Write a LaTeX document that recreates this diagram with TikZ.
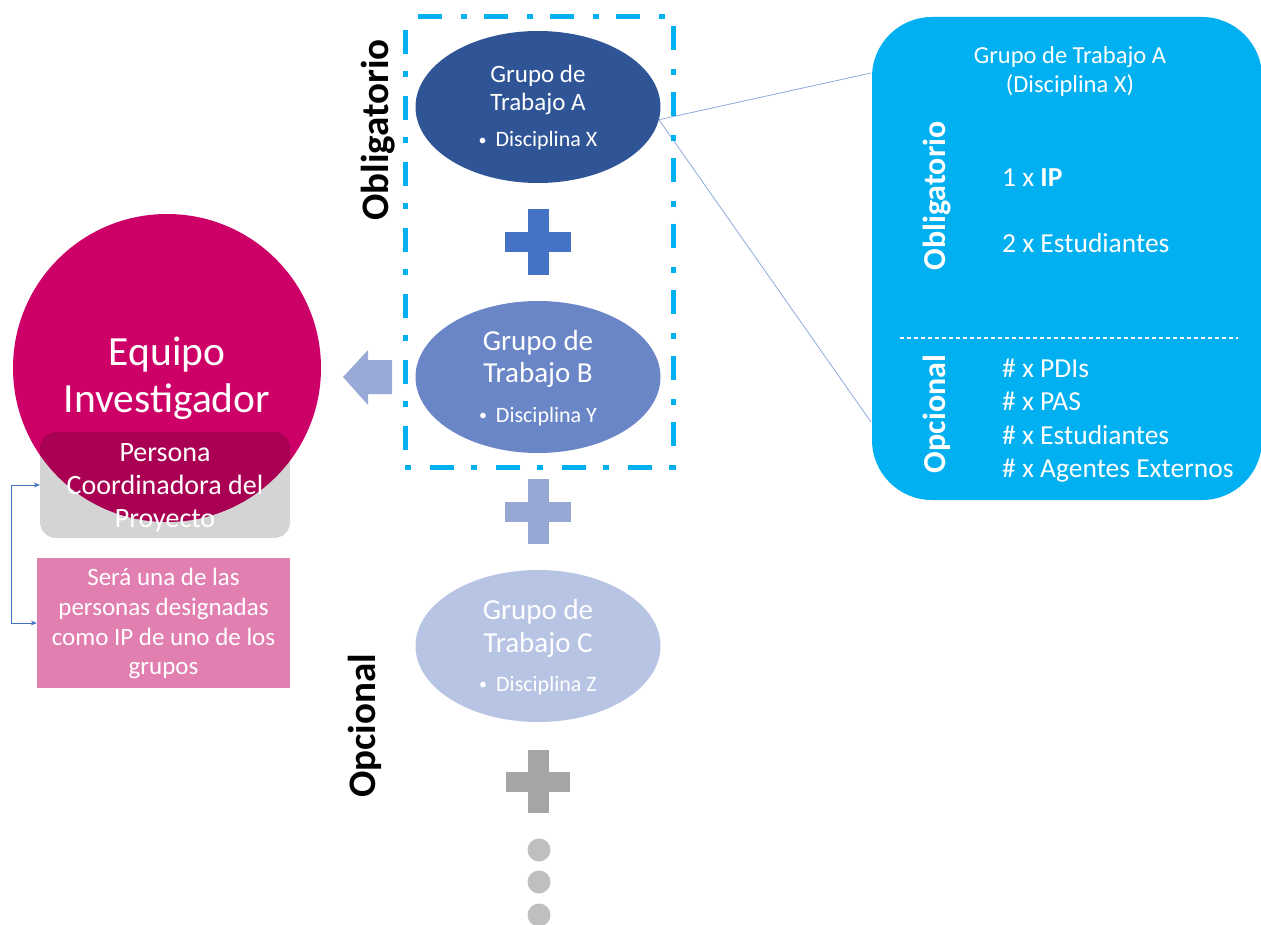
\documentclass[tikz,border=0pt]{standalone}
\usepackage{fontspec}
\setmainfont{Carlito}
\usetikzlibrary{shapes.geometric,calc,arrows.meta}
\definecolor{gAcol}{HTML}{2F5597}
\definecolor{gBcol}{HTML}{6B86C7}
\definecolor{gCcol}{HTML}{B8C4E3}
\definecolor{plusA}{HTML}{4472C4}
\definecolor{plusB}{HTML}{97A8D5}
\definecolor{plusC}{HTML}{A5A5A5}
\definecolor{dotcol}{HTML}{BFBFBF}
\definecolor{arrcol}{HTML}{9AAAD6}
\definecolor{cyanc}{HTML}{00B0F0}
\definecolor{magc}{HTML}{CC0066}
\definecolor{pinkc}{HTML}{E27FB1}
\definecolor{linec}{HTML}{8EA9DB}
\definecolor{connc}{HTML}{4472C4}
\newcommand\smallbul{\raisebox{1.5pt}{\fontsize{16}{16}\selectfont\textbullet}\hspace{9pt}}
\tikzset{
  grp/.style={ellipse, inner sep=0pt, minimum width=245pt, minimum height=152pt, draw=none},
  wt/.style={text=white, inner sep=0pt, anchor=base},
  wtl/.style={text=white, inner sep=0pt, anchor=base west},
  fA/.style={font=\fontsize{25}{27}\selectfont},
  fB/.style={font=\fontsize{29}{32}\selectfont},
  fD/.style={font=\fontsize{22}{26}\selectfont},
  fP/.style={font=\fontsize{27.5}{33}\selectfont},
  rotlab/.style={rotate=90, inner sep=0pt, font=\bfseries\fontsize{39}{44}\selectfont},
  rotlabw/.style={rotate=90, inner sep=0pt, text=white, font=\bfseries\fontsize{32}{36}\selectfont},
  thin link/.style={draw=linec, line width=0.8pt},
  conn/.style={draw=connc, line width=0.9pt, {Stealth[length=6pt,width=5pt]}-{Stealth[length=6pt,width=5pt]}}
}
\begin{document}
\begin{tikzpicture}[x=1pt,y=-1pt]
\useasboundingbox (0,0) rectangle (1261,925);

% ---------- right panel ----------
\node[fill=cyanc, rounded corners=60pt, minimum width=390pt, minimum height=483pt, inner sep=0pt] (panel) at (1067,258.5) {};
\coordinate (pA) at (871,73);
\coordinate (pB) at (871,422);
\node[wt, font=\fontsize{24.5}{28}\selectfont] (ptitle1) at (1070,64) {Grupo de Trabajo A};
\node[wt, font=\fontsize{24.5}{28}\selectfont] (ptitle2) at (1070,93) {(Disciplina X)};
\node[rotlabw] (pobl) at (937,196) {Obligatorio};
\node[rotlabw] (popc) at (937,414) {Opcional};
\node[wtl, fP] (pip) at (1002,187) {1 x \textbf{IP}};
\node[wtl, fP] (pest) at (1002,253) {2 x Estudiantes};
\draw[white, line width=1.3pt, dash pattern=on 4pt off 3pt] (900,338) -- (1238,338);
\node[wtl, fP] (o1) at (1002,377) {\# x PDIs};
\node[wtl, fP] (o2) at (1002,410) {\# x PAS};
\node[wtl, fP] (o3) at (1002,444) {\# x Estudiantes};
\node[wtl, fP] (o4) at (1002,477) {\# x Agentes Externos};

% ---------- groups ----------
\node[grp, fill=gAcol] (gA) at (538,107) {};
\node[grp, fill=gBcol] (gB) at (538,377) {};
\node[grp, fill=gCcol] (gC) at (538,646) {};

\node[wt, fA] (gA1) at (538,83) {Grupo de};
\node[wt, fA] (gA2) at (538,111) {Trabajo A};
\node[wt, fD] (gA3) at (538,147) {\smallbul Disciplina X};

\node[wt, fB] (gB1) at (538,350) {Grupo de};
\node[wt, fB] (gB2) at (538,382) {Trabajo B};
\node[wt, fD] (gB3) at (538,422) {\smallbul Disciplina Y};

\node[wt, fB] (gC1) at (538,619) {Grupo de};
\node[wt, fB] (gC2) at (538,652) {Trabajo C};
\node[wt, fD] (gC3) at (538,691) {\smallbul Disciplina Z};

% links to panel
\draw[thin link] (gA.-6) -- (pA);
\draw[thin link] (gA.-6) -- (pB);

% dashed box
\draw[cyanc, line width=5pt, dash pattern=on 24pt off 19pt on 6pt off 17pt, dash phase=53pt]
  (405,17) -- (673,17) -- (673,467) -- (405,467) -- cycle;

% plus signs
\fill[plusA] (505,232) rectangle (571,252);
\fill[plusA] (528,209) rectangle (549,275);
\fill[plusB] (505,502) rectangle (571,522);
\fill[plusB] (528,479) rectangle (549,544);
\fill[plusC] (506,772) rectangle (570,792);
\fill[plusC] (528,750) rectangle (549,813);

% dots
\fill[dotcol] (539,850) circle (11.5pt);
\fill[dotcol] (539,882) circle (11.5pt);
\fill[dotcol] (539,915) circle (11.5pt);

% block arrow
\fill[arrcol] (343,377) -- (368,350) -- (368,360) -- (392,360) -- (392,394) -- (368,394) -- (368,405) -- cycle;

% rotated labels
\node[rotlab] (lobl) at (378,130) {Obligatorio};
\node[rotlab] (lopc) at (365,726) {Opcional};

% ---------- left ----------
\node[circle, fill=magc, minimum size=308pt, inner sep=0pt] (team) at (167,368) {};
\node[rectangle, rounded corners=16pt, fill=black, fill opacity=0.17, minimum width=250pt, minimum height=106pt, inner sep=0pt] (coord) at (165,485) {};
\node[wt, font=\fontsize{41.5}{47}\selectfont] (t1) at (167,365) {Equipo};
\node[wt, font=\fontsize{41.5}{47}\selectfont] (t2) at (167,412) {Investigador};
\node[wt, font=\fontsize{28}{33}\selectfont] (c1) at (165,461) {Persona};
\node[wt, font=\fontsize{28}{33}\selectfont] (c2) at (165,494) {Coordinadora del};
\node[wt, font=\fontsize{28}{33}\selectfont] (c3) at (165,527) {Proyecto};

\node[rectangle, fill=pinkc, minimum width=253pt, minimum height=130pt, inner sep=0pt] (note) at (163.5,623) {};
\node[wt, font=\fontsize{25}{30}\selectfont] (n1) at (163.5,585) {Será una de las};
\node[wt, font=\fontsize{25}{30}\selectfont] (n2) at (163.5,615) {personas designadas};
\node[wt, font=\fontsize{25}{30}\selectfont] (n3) at (163.5,645) {como IP de uno de los};
\node[wt, font=\fontsize{25}{30}\selectfont] (n4) at (163.5,674) {grupos};

\draw[conn] (coord.west) -- ++(-28,0) |- (note.west);
\end{tikzpicture}
\end{document}
